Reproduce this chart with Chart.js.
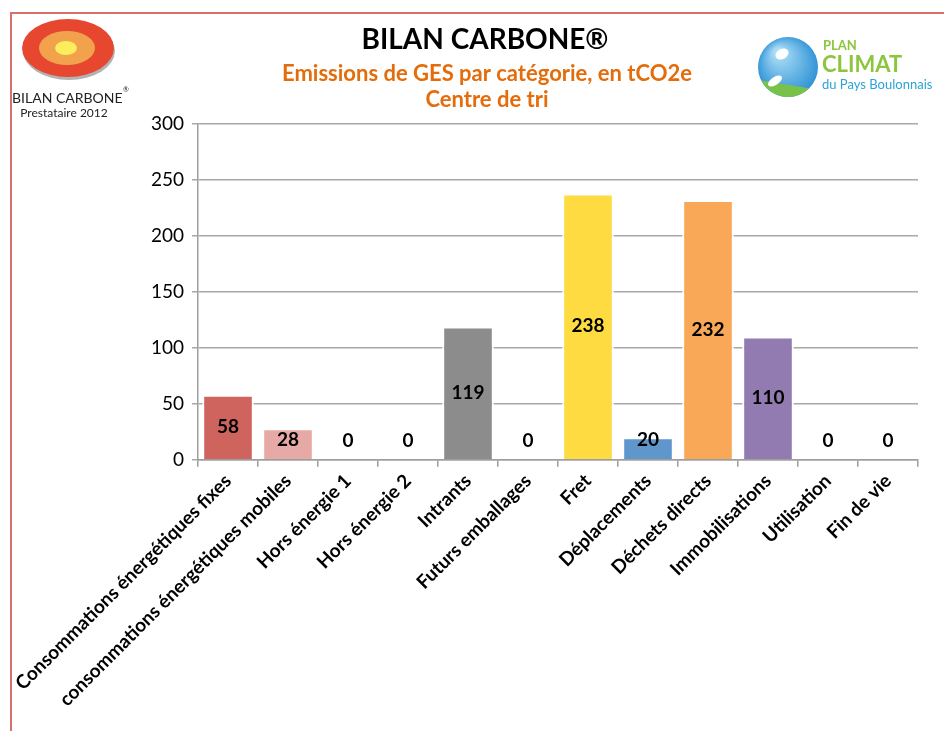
<!DOCTYPE html>
<html>
<head>
<meta charset="utf-8">
<script src="https://cdn.jsdelivr.net/npm/chart.js@4/dist/chart.umd.min.js"></script>
<style>
  html, body { margin: 0; padding: 0; background: #fff; }
  #wrap { width: 944px; height: 731px; }
</style>
</head>
<body>
<div id="wrap"><canvas id="graph" width="944" height="731"></canvas></div>
<script>
// ---------- data ----------
var categories = [
  "Consommations énergétiques fixes",
  "consommations énergétiques mobiles",
  "Hors énergie 1",
  "Hors énergie 2",
  "Intrants",
  "Futurs emballages",
  "Fret",
  "Déplacements",
  "Déchets directs",
  "Immobilisations",
  "Utilisation",
  "Fin de vie"
];
var emissions = [58, 28, 0, 0, 119, 0, 238, 20, 232, 110, 0, 0];
var barColors = ["#cf645e", "#e6a9a6", "#999999", "#999999", "#8c8c8c", "#999999",
                 "#fedb40", "#5f96cc", "#f8a857", "#927bb1", "#999999", "#999999"];
var yTicks = [0, 50, 100, 150, 200, 250, 300];

var FONT = "Lato";

// ---------- page decorations (frame, title, logos) ----------
var decor = {
  id: "decor",
  beforeDraw: function (chart) {
    var c = chart.ctx;
    c.save();
    c.fillStyle = "#fff";
    c.fillRect(0, 0, chart.width, chart.height);
    // frame
    c.strokeStyle = "#d6716c";
    c.lineWidth = 2;
    c.beginPath();
    c.moveTo(11, 731);
    c.lineTo(11, 13);
    c.lineTo(944, 13);
    c.stroke();
    c.restore();
  },
  afterDraw: function (chart) {
    var c = chart.ctx;
    c.save();
    // titles
    c.textAlign = "center";
    c.textBaseline = "middle";
    c.fillStyle = "#000";
    c.font = "bold 28px " + FONT;
    c.fillText("BILAN CARBONE®", 485, 40);
    c.fillStyle = "#e46c0a";
    c.font = "bold 22px " + FONT;
    c.fillText("Emissions de GES par catégorie, en tCO2e", 487, 74);
    c.fillText("Centre de tri", 487, 100);

    // left logo: Bilan Carbone target
    c.fillStyle = "rgba(0,0,0,0.3)";
    c.beginPath(); c.ellipse(69, 51, 46, 29, 0, 0, Math.PI * 2); c.fill();
    c.fillStyle = "#e8472f";
    c.beginPath(); c.ellipse(68, 48, 46, 29, 0, 0, Math.PI * 2); c.fill();
    c.fillStyle = "#f2a24c";
    c.beginPath(); c.ellipse(67, 48, 28, 17, 0, 0, Math.PI * 2); c.fill();
    c.fillStyle = "#fbee5c";
    c.beginPath(); c.ellipse(66, 48, 11, 7, 0, 0, Math.PI * 2); c.fill();
    c.fillStyle = "#222";
    c.textAlign = "left";
    c.font = "14px 'Liberation Sans Narrow', " + FONT;
    c.fillText("BILAN CARBONE", 12, 98);
    c.font = "7px " + FONT;
    c.fillText("®", 123, 90);
    c.font = "12px " + FONT;
    c.textAlign = "center";
    c.fillText("Prestataire 2012", 64, 113);

    // right logo: Plan Climat
    var g = c.createRadialGradient(778, 52, 4, 788, 66, 31);
    g.addColorStop(0, "#a9dcf5");
    g.addColorStop(1, "#2f93d6");
    c.fillStyle = g;
    c.beginPath(); c.arc(788, 67, 30, 0, Math.PI * 2); c.fill();
    c.fillStyle = "#79c24a";
    c.beginPath();
    c.arc(788, 67, 30, 0.25 * Math.PI, 0.85 * Math.PI);
    c.closePath();
    c.fill();
    c.fillStyle = "#ffffff";
    c.beginPath(); c.ellipse(782, 54, 7, 5, -0.5, 0, Math.PI * 2); c.fill();
    c.beginPath(); c.ellipse(775, 81, 8, 4, -0.6, 0, Math.PI * 2); c.fill();
    c.textAlign = "left";
    c.fillStyle = "#8cc63f";
    c.font = "bold 13px " + FONT;
    c.fillText("PLAN", 823, 46);
    c.font = "bold 22px " + FONT;
    c.fillText("CLIMAT", 822, 65);
    c.fillStyle = "#2aa4d6";
    c.font = "13px " + FONT;
    c.fillText("du Pays Boulonnais", 822, 85);

    // value labels in the bars
    var meta = chart.getDatasetMeta(0);
    c.fillStyle = "#000";
    c.textAlign = "center";
    c.textBaseline = "middle";
    c.font = "bold 19px " + FONT;
    meta.data.forEach(function (bar, i) {
      var mid = (bar.y + bar.base) / 2;
      var y = Math.min(mid, bar.base - 19);
      c.fillText(String(emissions[i]), bar.x, y);
    });
    c.restore();
  }
};

// ---------- chart ----------
var ctx = document.getElementById("graph");
var myChart = new Chart(ctx, {
  type: "bar",
  data: {
    labels: categories,
    datasets: [{
      label: "tCO2e",
      data: emissions,
      backgroundColor: barColors,
      borderColor: "#ffffff",
      borderWidth: 2,
      barPercentage: 0.86,
      categoryPercentage: 1
    }]
  },
  options: {
    responsive: false,
    animation: false,
    layout: { padding: { top: 124, right: 26, left: 10, bottom: 17 } },
    plugins: {
      legend: { display: false },
      tooltip: { enabled: false }
    },
    scales: {
      x: {
        grid: { offset: true, drawOnChartArea: false, tickLength: 7, color: "#9e9e9e", lineWidth: 1.5 },
        border: { color: "#9e9e9e", width: 1.5 },
        ticks: {
          minRotation: 45, maxRotation: 45, autoSkip: false,
          color: "#000", font: { family: FONT, size: 19, weight: "bold" }
        }
      },
      y: {
        min: 0, max: 300,
        afterBuildTicks: function (axis) {
          axis.ticks = yTicks.map(function (v) { return { value: v }; });
        },
        afterFit: function (axis) { axis.width = 188; },
        grid: { color: "#a8a8a8", lineWidth: 1.5, tickLength: 6 },
        border: { color: "#9e9e9e", width: 1.5 },
        ticks: { color: "#000", padding: 8, font: { family: FONT, size: 19 } }
      }
    }
  },
  plugins: [decor]
});
</script>
</body>
</html>
